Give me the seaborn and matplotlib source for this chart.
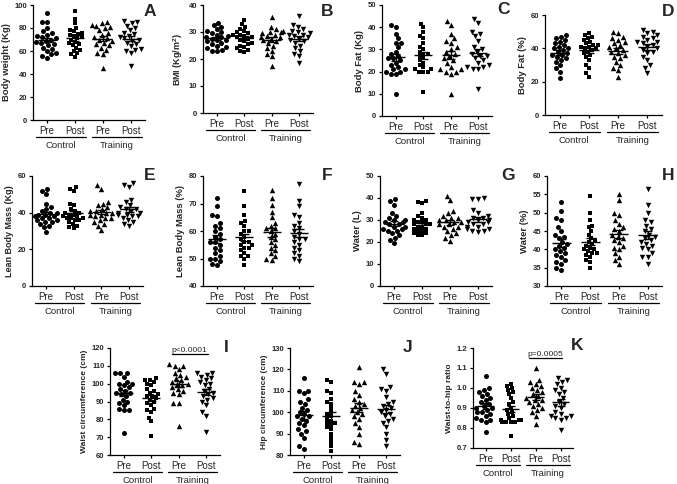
import numpy as np
import pandas as pd
import matplotlib
matplotlib.use("Agg")
import matplotlib.pyplot as plt
import seaborn as sns
from matplotlib.transforms import blended_transform_factory

sns.set_style("ticks")
plt.rcParams['font.family'] = ['Liberation Sans', 'DejaVu Sans']
plt.rcParams['mathtext.fontset'] = 'custom'
plt.rcParams['mathtext.rm'] = 'Liberation Sans'
plt.rcParams['mathtext.bf'] = 'Liberation Sans:bold'

# ---------------- data ----------------
groups = ["Control Pre", "Control Post", "Training Pre", "Training Post"]
tick_labels = ["Pre", "Post", "Pre", "Post"]
group_names = ["Control", "Training"]

weight_cpre = [93, 85, 85, 80, 77, 76, 74, 73, 72, 71, 70, 69, 68, 67, 66, 65, 63, 62, 60, 58, 57, 56, 54]
weight_cpost = [95, 88, 84, 80, 78, 77, 76, 75, 74, 73, 72, 71, 70, 68, 67, 66, 65, 63, 61, 60, 58, 57, 55]
weight_tpre = [85, 84, 83, 82, 81, 80, 78, 76, 74, 72, 71, 70, 69, 67, 66, 65, 63, 61, 58, 57, 45]
weight_tpost = [86, 85, 84, 82, 80, 78, 76, 75, 73, 72, 71, 70, 69, 67, 66, 64, 62, 61, 60, 58, 47]

bmi_cpre = [33.5, 32.5, 32, 31, 30.5, 30, 29.5, 29, 28.5, 28, 28, 27.5, 27, 27, 26.5, 26, 25.5, 25, 24.5, 24, 23.5, 23, 23]
bmi_cpost = [34.5, 33, 32, 31, 30.5, 30, 29.5, 29, 29, 28.5, 28, 28, 27.5, 27, 26.5, 26, 25.5, 25, 24.5, 24, 23.5, 23, 22.5]
bmi_tpre = [35.5, 32, 31, 30.5, 30, 30, 29.5, 29, 28.5, 28, 28, 27.5, 27, 26.5, 26, 25, 24, 23, 22, 21, 17.5]
bmi_tpost = [36, 32.5, 32, 31, 30.5, 30, 29.5, 29, 29, 28.5, 28, 27.5, 27, 26.5, 26, 25, 24, 23, 22, 21, 18.5]

fatkg_cpre = [41, 40, 37, 35, 33, 33, 31, 29, 28, 27, 26, 26, 25, 24, 23, 22, 21, 21, 20, 20, 19, 19, 10]
fatkg_cpost = [41.5, 40, 38, 36, 35, 33, 31, 30, 29, 28, 28, 27, 26, 25, 24, 23, 22, 21, 21, 20, 20, 20, 11]
fatkg_tpre = [43, 41, 37, 35, 34, 33, 31, 30, 29, 28, 27, 26, 25, 24, 22, 21, 21, 20, 20, 19, 10]
fatkg_tpost = [43.5, 42, 38, 37, 36, 34, 31, 30, 29, 28, 27, 27, 26, 25, 24, 23, 22, 22, 21, 21, 12]

fatpct_cpre = [48, 47, 46, 45, 44, 43, 42, 41, 40, 40, 39, 38, 37, 36, 36, 35, 34, 33, 32, 30, 28, 26, 22]
fatpct_cpost = [49, 48, 47, 46, 45, 44, 43, 42, 42, 41, 41, 40, 40, 39, 38, 37, 36, 35, 33, 30, 28, 25, 23]
fatpct_tpre = [50, 49, 47, 46, 45, 44, 43, 42, 41, 40, 39, 38, 37, 36, 35, 34, 32, 30, 28, 27, 23]
fatpct_tpost = [51, 50, 49, 48, 47, 46, 45, 44, 44, 43, 42, 41, 40, 39, 38, 37, 35, 33, 30, 28, 25]

leankg_cpre = [53, 52, 50, 45, 43, 42, 41, 40, 40, 39, 39, 38, 38, 37, 37, 36, 36, 35, 35, 34, 33, 32, 29.5]
leankg_cpost = [54, 53, 52, 45, 44, 42, 41, 40, 40, 39, 39, 38, 38, 37, 37, 37, 36, 36, 35, 34, 33, 32, 31.5]
leankg_tpre = [55, 53, 46, 45, 44, 43, 42, 41, 41, 40, 40, 39, 39, 38, 37, 37, 36, 35, 34, 33, 30.5]
leankg_tpost = [56, 55, 54, 47, 46, 44, 43, 42, 42, 41, 40, 40, 39, 39, 38, 38, 37, 36, 35, 34, 33]

leanpct_cpre = [72, 69, 66, 65.5, 63, 62, 61, 60, 59, 58, 57, 56, 56, 55, 54, 53, 52, 51, 50, 50, 49, 48, 47.5]
leanpct_cpost = [74.5, 69, 66, 63.5, 63, 62, 60, 60, 59, 58, 57, 56, 56, 55, 55, 54, 54, 53, 52, 51, 51, 50, 47.5]
leanpct_tpre = [75, 72, 69.5, 67, 65, 63, 62, 61, 61, 60, 59, 58, 57, 56, 55, 54, 53, 52, 51, 50, 49.5]
leanpct_tpost = [77, 71, 69, 66, 65, 63, 62, 61, 60, 59, 58, 57, 57, 56, 55, 54, 53, 52, 51, 50, 49]

waterl_cpre = [39.5, 38.5, 37, 33, 32, 31, 30, 30, 29, 29, 28, 28, 27, 27, 26, 26, 25, 25, 24, 23, 22, 21, 19.5]
waterl_cpost = [38.5, 38, 37.5, 33, 32, 31, 30, 30, 29, 29, 28, 28, 28, 27, 27, 26, 26, 25, 25, 24, 24, 23, 23]
waterl_tpre = [41, 39, 34, 33, 32, 31, 31, 30, 30, 29, 29, 28, 28, 27, 27, 26, 25, 24, 23, 22, 20.5]
waterl_tpost = [40, 39.5, 39.5, 34.5, 33, 32, 31, 31, 30, 30, 29, 29, 28, 28, 27, 27, 26, 26, 25, 25, 24.5]

waterpct_cpre = [53, 50.5, 48.5, 48, 46, 45, 44, 43.5, 43, 42, 41.5, 41, 40.5, 40, 39.5, 39, 38.5, 38, 37, 36.5, 36, 35, 34.5]
waterpct_cpost = [54.5, 50, 48, 46.5, 46, 45, 44, 43, 42.5, 42, 41.5, 41, 40.5, 40, 40, 39.5, 39, 39, 38.5, 38, 37, 36.5, 35]
waterpct_tpre = [55, 53.5, 50, 49.5, 48, 47, 46, 45.5, 45, 44, 43.5, 43, 42.5, 42, 41, 40.5, 40, 39, 38, 37, 36]
waterpct_tpost = [56.5, 52, 50, 48, 47.5, 46.5, 45.5, 45, 44, 43.5, 43, 42.5, 42, 41.5, 41, 40.5, 40, 39, 38, 38, 36]

waist_cpre = [106, 106, 106, 104, 101, 100, 100, 99, 98, 97, 96, 95, 95, 94, 93, 91, 90, 89, 88, 86, 85, 85, 72.5]
waist_cpost = [103, 102, 102, 101, 100, 99, 97, 96, 95, 94, 93, 93, 92, 91, 90, 89, 88, 86, 85, 84, 81, 79, 70.5]
waist_tpre = [111, 110, 110, 108, 106, 105, 104, 103, 102, 101, 100, 100, 99, 98, 97, 96, 95, 94, 89, 89, 76]
waist_tpost = [106, 106, 105, 104, 103, 102, 101, 100, 99, 97, 96, 95, 94, 93, 92, 91, 90, 88, 84, 82, 73]

hip_cpre = [116, 110, 110, 109, 106, 105, 104, 102, 101, 100, 99, 98, 98, 97, 96, 95, 94, 92, 91, 90, 88, 84, 83]
hip_cpost = [115, 114, 110, 109, 106, 105, 104, 102, 100, 99, 98, 97, 96, 95, 95, 94, 93, 92, 90, 88, 86, 84, 82]
hip_tpre = [121, 114, 114, 113, 110, 108, 106, 105, 104, 103, 102, 101, 100, 99, 98, 97, 95, 93, 90, 86, 85]
hip_tpost = [120, 118, 112, 111, 110, 107, 105, 104, 103, 102, 101, 100, 99, 98, 97, 96, 95, 93, 90, 87, 84]

whr_cpre = [1.06, 1.00, 0.99, 0.98, 0.97, 0.96, 0.95, 0.94, 0.93, 0.92, 0.91, 0.90, 0.90, 0.89, 0.88, 0.88, 0.87, 0.86, 0.85, 0.84, 0.84, 0.83, 0.78]
whr_cpost = [1.02, 1.01, 1.00, 0.99, 0.98, 0.97, 0.95, 0.93, 0.92, 0.90, 0.89, 0.88, 0.87, 0.86, 0.85, 0.84, 0.84, 0.84, 0.83, 0.83, 0.83, 0.83, 0.76]
whr_tpre = [1.10, 1.04, 1.03, 1.02, 1.01, 1.00, 0.99, 0.98, 0.97, 0.96, 0.95, 0.94, 0.94, 0.93, 0.92, 0.91, 0.90, 0.89, 0.88, 0.86, 0.82]
whr_tpost = [1.05, 1.04, 1.03, 1.02, 1.00, 0.99, 0.98, 0.97, 0.95, 0.93, 0.92, 0.91, 0.90, 0.88, 0.87, 0.86, 0.86, 0.85, 0.85, 0.84, 0.79]

# ---------------- layout ----------------
W, H = 677, 484
fig = plt.figure(figsize=(W / 100, H / 100), dpi=100)

markers = ["o", "s", "^", "v"]
msizes = [3.6, 3.0, 3.9, 3.9]

panels = [
    dict(letter="A", ylabel="Body weight (Kg)", data=[weight_cpre, weight_cpost, weight_tpre, weight_tpost],
         ylim=(0, 100), yticks=np.arange(0, 101, 20), box=(33, 5, 145, 120), lpos=(150, 12), fs=6.8),
    dict(letter="B", ylabel=r"BMI (Kg/m$\mathbf{^2}$)", data=[bmi_cpre, bmi_cpost, bmi_tpre, bmi_tpost],
         ylim=(0, 40), yticks=np.arange(0, 41, 10), box=(203, 5, 313, 113), lpos=(327, 12), fs=6.5),
    dict(letter="C", ylabel="Body Fat (Kg)", data=[fatkg_cpre, fatkg_cpost, fatkg_tpre, fatkg_tpost],
         ylim=(0, 50), yticks=np.arange(0, 51, 10), box=(382, 5, 492, 116), lpos=(503, 10), fs=6.8),
    dict(letter="D", ylabel="Body Fat (%)", data=[fatpct_cpre, fatpct_cpost, fatpct_tpre, fatpct_tpost],
         ylim=(0, 60), yticks=np.arange(0, 61, 20), box=(545, 15, 662, 115), lpos=(668, 12), fs=6.8),
    dict(letter="E", ylabel="Lean Body Mass (Kg)", data=[leankg_cpre, leankg_cpost, leankg_tpre, leankg_tpost],
         ylim=(0, 60), yticks=np.arange(0, 61, 20), box=(32, 176, 143, 286), lpos=(150, 175), fs=6.5),
    dict(letter="F", ylabel="Lean Body Mass (%)", data=[leanpct_cpre, leanpct_cpost, leanpct_tpre, leanpct_tpost],
         ylim=(40, 80), yticks=np.arange(40, 81, 10), box=(203, 176, 313, 286), lpos=(327, 175), fs=6.8),
    dict(letter="G", ylabel="Water (L)", data=[waterl_cpre, waterl_cpost, waterl_tpre, waterl_tpost],
         ylim=(0, 50), yticks=np.arange(0, 51, 10), box=(380, 176, 492, 286), lpos=(508, 175), fs=6.8),
    dict(letter="H", ylabel="Water (%)", data=[waterpct_cpre, waterpct_cpost, waterpct_tpre, waterpct_tpost],
         ylim=(30, 60), yticks=np.arange(30, 61, 5), box=(547, 176, 662, 286), lpos=(668, 175), fs=6.8),
    dict(letter="I", ylabel="Waist circumference (cm)", data=[waist_cpre, waist_cpost, waist_tpre, waist_tpost],
         ylim=(60, 120), yticks=np.arange(60, 121, 10), box=(110, 348, 220, 455), lpos=(226, 347), fs=6,
         sig=("p<0.0001", 116.5)),
    dict(letter="J", ylabel="Hip circumference (cm)", data=[hip_cpre, hip_cpost, hip_tpre, hip_tpost],
         ylim=(80, 130), yticks=np.arange(80, 131, 10), box=(290, 348, 400, 455), lpos=(408, 347), fs=6),
    dict(letter="K", ylabel="Waist-to-hip ratio", data=[whr_cpre, whr_cpost, whr_tpre, whr_tpost],
         ylim=(0.7, 1.2), yticks=np.round(np.arange(0.7, 1.21, 0.1), 1), box=(473, 348, 573, 448), lpos=(577, 345), fs=6,
         sig=("p=0.0005", 1.15)),
]

for p in panels:
    l, t, r, b = p["box"]
    ax = fig.add_axes([l / W, 1 - b / H, (r - l) / W, (b - t) / H])
    hpx = b - t
    for gi, (g, vals) in enumerate(zip(groups, p["data"])):
        df = pd.DataFrame({"group": [g] * len(vals), "value": vals})
        sns.swarmplot(data=df, x="group", y="value", order=groups, ax=ax,
                      marker=markers[gi], color="black", size=msizes[gi], linewidth=0, zorder=2)
        v = np.asarray(vals, dtype=float)
        m = v.mean()
        se = v.std(ddof=1) / np.sqrt(len(v))
        ax.hlines(m, gi - 0.33, gi + 0.33, color="black", lw=1.0, zorder=3)
        ax.hlines([m - se, m + se], gi - 0.16, gi + 0.16, color="black", lw=1.0, zorder=3)
        ax.vlines(gi, m - se, m + se, color="black", lw=1.0, zorder=3)

    ax.set_xlim(-0.5, 3.5)
    ax.set_ylim(*p["ylim"])
    ax.set_yticks(p["yticks"])
    if p["letter"] == "K":
        ax.set_yticklabels([f"{v:.1f}" for v in p["yticks"]])
    ax.set_xticks(range(4))
    ax.set_xticklabels(tick_labels, fontsize=7)
    for lab in ax.get_yticklabels():
        lab.set_fontweight("bold")
        lab.set_fontsize(5.5)
    ax.set_xlabel("")
    ax.set_ylabel(p["ylabel"], fontsize=p["fs"], fontweight="bold", labelpad=3)
    ax.tick_params(axis="both", length=2.5, width=0.9, pad=1.5, color="black")
    sns.despine(ax=ax)
    for s in ["left", "bottom"]:
        ax.spines[s].set_linewidth(0.9)
        ax.spines[s].set_color("black")

    tr = blended_transform_factory(ax.transData, ax.transAxes)
    yline = -17 / hpx
    ytext = -25.5 / hpx
    for (x0, x1), name in zip([(-0.38, 1.38), (1.62, 3.38)], group_names):
        ax.plot([x0, x1], [yline, yline], transform=tr, color="black", lw=0.9, clip_on=False)
        ax.text((x0 + x1) / 2, ytext, name, transform=tr, ha="center", va="center", fontsize=6.8)

    if "sig" in p:
        txt, yv = p["sig"]
        ax.plot([1.75, 3.05], [yv, yv], color="black", lw=0.9, clip_on=False)
        ax.text(2.4, yv, txt, ha="center", va="bottom", fontsize=6)

    fig.text(p["lpos"][0] / W, 1 - p["lpos"][1] / H, p["letter"], ha="center", va="center",
             fontsize=12.5, fontweight="bold")

fig.savefig("out.png", dpi=100)
